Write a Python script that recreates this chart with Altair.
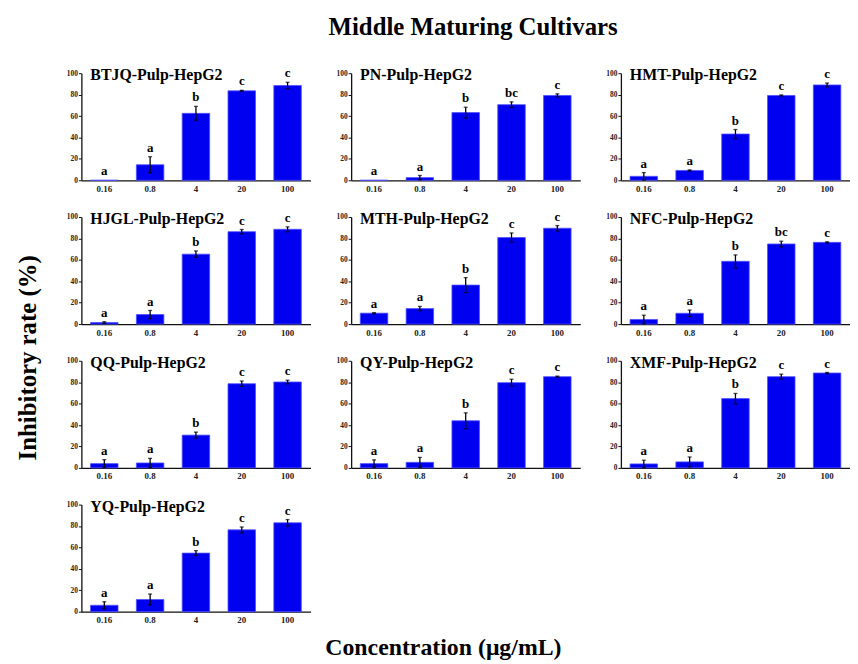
import altair as alt
import pandas as pd

TITLE = "Middle Maturing Cultivars"
Y_LABEL = "Inhibitory rate (%)"
X_LABEL = "Concentration (\u03bcg/mL)"

CONCS = ["0.16", "0.8", "4", "20", "100"]
Y_TICKS = [0, 20, 40, 60, 80, 100]

CULTIVARS = [
    "BTJQ-Pulp-HepG2", "PN-Pulp-HepG2", "HMT-Pulp-HepG2",
    "HJGL-Pulp-HepG2", "MTH-Pulp-HepG2", "NFC-Pulp-HepG2",
    "QQ-Pulp-HepG2", "QY-Pulp-HepG2", "XMF-Pulp-HepG2",
    "YQ-Pulp-HepG2",
]

MEANS = [
    [0.0, 14.5, 62.5, 83.5, 88.5],
    [0.0, 2.5, 63.2, 70.6, 79.2],
    [3.7, 9.2, 43.2, 79.2, 89.0],
    [1.5, 8.9, 65.3, 86.3, 88.5],
    [10.2, 14.5, 36.4, 80.8, 89.5],
    [4.3, 10.1, 58.6, 74.8, 76.3],
    [4.0, 4.6, 30.6, 78.6, 80.2],
    [4.0, 5.2, 44.0, 79.6, 85.2],
    [3.7, 5.6, 64.7, 85.2, 88.6],
    [6.0, 11.4, 54.7, 76.4, 83.0],
]

ERRS = [
    [0.0, 7.5, 6.5, 0.5, 3.0],
    [0.0, 2.0, 5.0, 2.6, 1.5],
    [3.5, 0.5, 4.2, 0.5, 1.8],
    [0.7, 3.8, 3.0, 2.0, 2.3],
    [0.5, 2.0, 7.0, 4.3, 2.5],
    [4.0, 3.0, 6.0, 2.6, 0.5],
    [3.7, 4.3, 2.8, 2.5, 1.7],
    [3.5, 4.6, 7.4, 3.2, 0.5],
    [3.5, 4.6, 4.8, 2.3, 0.5],
    [3.3, 5.1, 2.3, 2.7, 3.0],
]

LETTERS = [
    ["a", "a", "b", "c", "c"],
    ["a", "a", "b", "bc", "c"],
    ["a", "a", "b", "c", "c"],
    ["a", "a", "b", "c", "c"],
    ["a", "a", "b", "c", "c"],
    ["a", "a", "b", "bc", "c"],
    ["a", "a", "b", "c", "c"],
    ["a", "a", "b", "c", "c"],
    ["a", "a", "b", "c", "c"],
    ["a", "a", "b", "c", "c"],
]

FONT = "Liberation Serif"
W, H, GAP = 231, 108, 41
ROW_GAP = 37
BAR_FILL = "#0000f0"
BAR_STROKE = "#5050ff"

y_scale = alt.Scale(domain=[0, 100], nice=False, zero=True)
x_scale = alt.Scale(paddingInner=0.4, paddingOuter=0.2)
y_axis = alt.Axis(values=Y_TICKS, tickSize=3, labelPadding=1,
                  labelOverlap=False, labelFlush=False,
                  labelFont=FONT, labelFontSize=7.5,
                  labelFontWeight="bold", labelColor="#222",
                  domainColor="#111", domainWidth=1.3,
                  tickColor="#111", tickWidth=1, grid=False, title=None)


def yenc(field):
    return alt.Y(field, scale=y_scale, axis=y_axis, title=None)


def panel(i):
    df = pd.DataFrame({
        "conc": CONCS,
        "mean": MEANS[i],
        "err": ERRS[i],
        "letter": LETTERS[i],
    })
    base = alt.Chart(df).encode(
        x=alt.X("conc:N", sort=CONCS, scale=x_scale, title=None,
                axis=alt.Axis(labelAngle=0, ticks=False, labelPadding=4,
                              labelFont=FONT, labelFontSize=9,
                              labelFontWeight="bold", labelColor="#222",
                              domainColor="#111", domainWidth=1.3))
    )
    bars = base.mark_bar(fill=BAR_FILL, stroke=BAR_STROKE,
                         strokeWidth=0.8).encode(y=yenc("mean:Q"))
    eb = base.transform_filter("datum.err > 0").transform_calculate(
        lo="datum.mean - datum.err", hi="datum.mean + datum.err")
    rule = eb.mark_rule(color="black", strokeWidth=1.3).encode(
        y=yenc("lo:Q"), y2="hi:Q")
    cap_lo = eb.mark_tick(color="black", size=4, thickness=1.3).encode(
        y=yenc("lo:Q"))
    cap_hi = eb.mark_tick(color="black", size=4, thickness=1.3).encode(
        y=yenc("hi:Q"))
    letters = base.transform_calculate(top="datum.mean + datum.err").mark_text(
        font=FONT, fontSize=13, fontWeight="bold", color="black",
        baseline="alphabetic", dy=-5).encode(
        y=yenc("top:Q"), text="letter:N")
    name = alt.Chart(pd.DataFrame({"t": [CULTIVARS[i]]})).mark_text(
        font=FONT, fontSize=16, fontWeight="bold", color="black",
        align="left", baseline="alphabetic").encode(
        x=alt.value(9), y=alt.value(7), text="t:N")
    layers = [bars, rule, cap_lo, cap_hi, letters, name]
    if i == 0:
        layers.append(alt.Chart(pd.DataFrame({"t": [TITLE]})).mark_text(
            font=FONT, fontSize=25, fontWeight="bold", color="black",
            align="center", baseline="alphabetic").encode(
            x=alt.value(395), y=alt.value(-38), text="t:N"))
    if i == 3:
        layers.append(alt.Chart(pd.DataFrame({"t": [Y_LABEL]})).mark_text(
            font=FONT, fontSize=25, fontWeight="bold", color="black",
            align="center", baseline="middle", angle=270).encode(
            x=alt.value(-54), y=alt.value(142), text="t:N"))
    if i == 9:
        layers.append(alt.Chart(pd.DataFrame({"t": [X_LABEL]})).mark_text(
            font=FONT, fontSize=24, fontWeight="bold", color="black",
            align="center", baseline="middle").encode(
            x=alt.value(365), y=alt.value(145), text="t:N"))
    return alt.layer(*layers).properties(width=W, height=H)


chart = alt.concat(
    *[panel(i) for i in range(len(CULTIVARS))],
    columns=3, spacing={"row": ROW_GAP, "column": GAP}, bounds="flush",
).properties(
    padding={"left": 8, "top": 5, "right": 0, "bottom": 0},
).configure_view(stroke=None)

chart.save("out.html", embed_options={"renderer": "svg", "actions": False})
